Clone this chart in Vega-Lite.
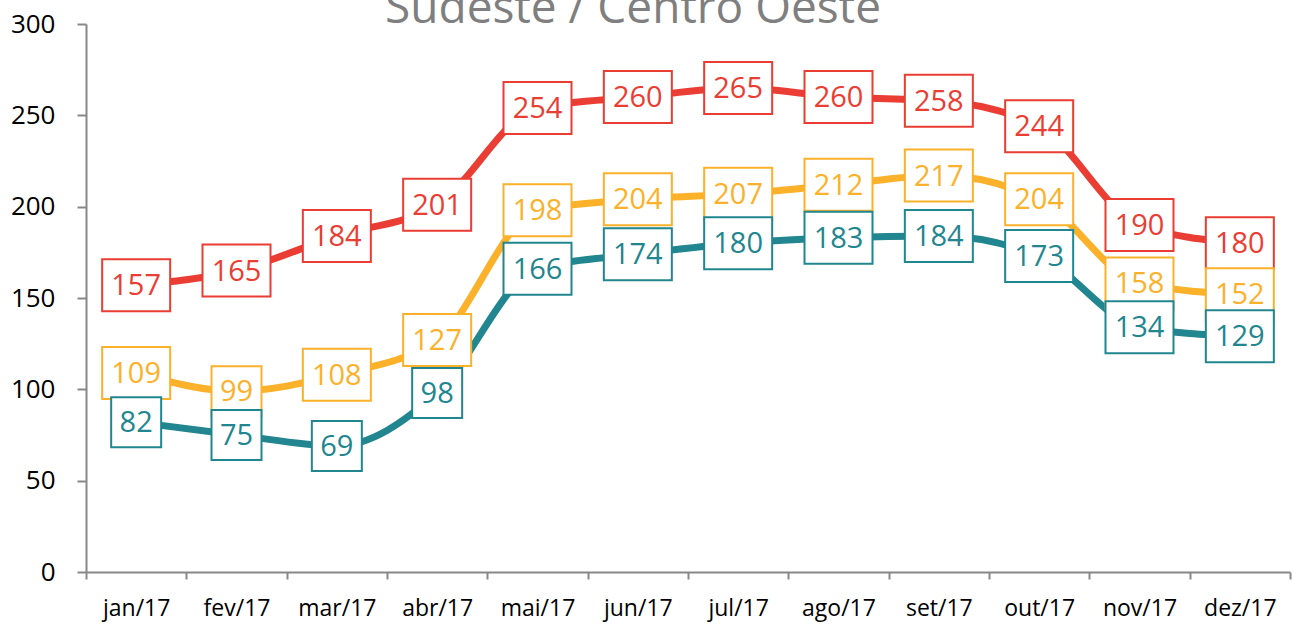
{
  "$schema": "https://vega.github.io/schema/vega-lite/v6.json",
  "width": 1204,
  "height": 548,
  "autosize": {"type": "none"},
  "padding": {"left": 86, "top": 24, "right": 4, "bottom": 55},
  "background": "white",
  "title": {
    "text": "Sudeste / Centro Oeste",
    "anchor": "middle",
    "offset": -22,
    "dx": -55,
    "fontSize": 46,
    "font": "Open Sans",
    "fontWeight": "normal",
    "color": "#7F7F7F"
  },
  "config": {
    "view": {"stroke": null},
    "font": "Open Sans",
    "axis": {
      "domainColor": "#888888",
      "tickColor": "#888888",
      "domainWidth": 2,
      "tickWidth": 2,
      "labelColor": "#000000",
      "labelFont": "Open Sans",
      "grid": false,
      "title": null
    }
  },
  "data": {
    "values": [
      {"month": "jan/17", "series": "Alta", "value": 157},
      {"month": "fev/17", "series": "Alta", "value": 165},
      {"month": "mar/17", "series": "Alta", "value": 184},
      {"month": "abr/17", "series": "Alta", "value": 201},
      {"month": "mai/17", "series": "Alta", "value": 254},
      {"month": "jun/17", "series": "Alta", "value": 260},
      {"month": "jul/17", "series": "Alta", "value": 265},
      {"month": "ago/17", "series": "Alta", "value": 260},
      {"month": "set/17", "series": "Alta", "value": 258},
      {"month": "out/17", "series": "Alta", "value": 244},
      {"month": "nov/17", "series": "Alta", "value": 190},
      {"month": "dez/17", "series": "Alta", "value": 180},
      {"month": "jan/17", "series": "Média", "value": 109},
      {"month": "fev/17", "series": "Média", "value": 99},
      {"month": "mar/17", "series": "Média", "value": 108},
      {"month": "abr/17", "series": "Média", "value": 127},
      {"month": "mai/17", "series": "Média", "value": 198},
      {"month": "jun/17", "series": "Média", "value": 204},
      {"month": "jul/17", "series": "Média", "value": 207},
      {"month": "ago/17", "series": "Média", "value": 212},
      {"month": "set/17", "series": "Média", "value": 217},
      {"month": "out/17", "series": "Média", "value": 204},
      {"month": "nov/17", "series": "Média", "value": 158},
      {"month": "dez/17", "series": "Média", "value": 152},
      {"month": "jan/17", "series": "Baixa", "value": 82},
      {"month": "fev/17", "series": "Baixa", "value": 75},
      {"month": "mar/17", "series": "Baixa", "value": 69},
      {"month": "abr/17", "series": "Baixa", "value": 98},
      {"month": "mai/17", "series": "Baixa", "value": 166},
      {"month": "jun/17", "series": "Baixa", "value": 174},
      {"month": "jul/17", "series": "Baixa", "value": 180},
      {"month": "ago/17", "series": "Baixa", "value": 183},
      {"month": "set/17", "series": "Baixa", "value": 184},
      {"month": "out/17", "series": "Baixa", "value": 173},
      {"month": "nov/17", "series": "Baixa", "value": 134},
      {"month": "dez/17", "series": "Baixa", "value": 129}
    ]
  },
  "encoding": {
    "x": {
      "field": "month",
      "type": "nominal",
      "sort": null,
      "scale": {"type": "band", "paddingInner": 0, "paddingOuter": 0},
      "axis": {
        "labelAngle": 0,
        "labelFontSize": 23,
        "tickSize": 7,
        "tickBand": "extent",
        "labelPadding": 18
      }
    },
    "y": {
      "field": "value",
      "type": "quantitative",
      "scale": {"domain": [0, 300], "nice": false},
      "axis": {
        "values": [0, 50, 100, 150, 200, 250, 300],
        "labelFontSize": 26,
        "tickSize": 9,
        "labelPadding": 22
      }
    }
  },
  "layer": [
    {
      "mark": {"type": "line", "strokeWidth": 7, "interpolate": "monotone"},
      "encoding": {
        "color": {
          "field": "series",
          "type": "nominal",
          "scale": {"domain": ["Alta", "Média", "Baixa"], "range": ["#EA3D33", "#FBB12A", "#21868F"]},
          "legend": null
        }
      }
    },
    {
      "transform": [{"filter": "datum.value >= 100"}],
      "mark": {
        "type": "point",
        "shape": "M-1,-0.765L1,-0.765L1,0.765L-1,0.765Z",
        "size": 4624,
        "filled": true,
        "fill": "white",
        "fillOpacity": 1,
        "strokeWidth": 2,
        "opacity": 1
      },
      "encoding": {
        "stroke": {
          "field": "series",
          "type": "nominal",
          "scale": {"domain": ["Alta", "Média", "Baixa"], "range": ["#EA3D33", "#FBB12A", "#21868F"]},
          "legend": null
        }
      }
    },
    {
      "transform": [{"filter": "datum.value < 100"}],
      "mark": {
        "type": "point",
        "shape": "M-1,-1L1,-1L1,1L-1,1Z",
        "size": 2500,
        "filled": true,
        "fill": "white",
        "fillOpacity": 1,
        "strokeWidth": 2,
        "opacity": 1
      },
      "encoding": {
        "stroke": {
          "field": "series",
          "type": "nominal",
          "scale": {"domain": ["Alta", "Média", "Baixa"], "range": ["#EA3D33", "#FBB12A", "#21868F"]},
          "legend": null
        }
      }
    },
    {
      "mark": {"type": "text", "fontSize": 29, "fontWeight": 500, "baseline": "middle", "align": "center", "dy": 1},
      "encoding": {
        "text": {"field": "value", "type": "quantitative"},
        "color": {
          "field": "series",
          "type": "nominal",
          "scale": {"domain": ["Alta", "Média", "Baixa"], "range": ["#EA3D33", "#FBB12A", "#21868F"]},
          "legend": null
        }
      }
    }
  ]
}
